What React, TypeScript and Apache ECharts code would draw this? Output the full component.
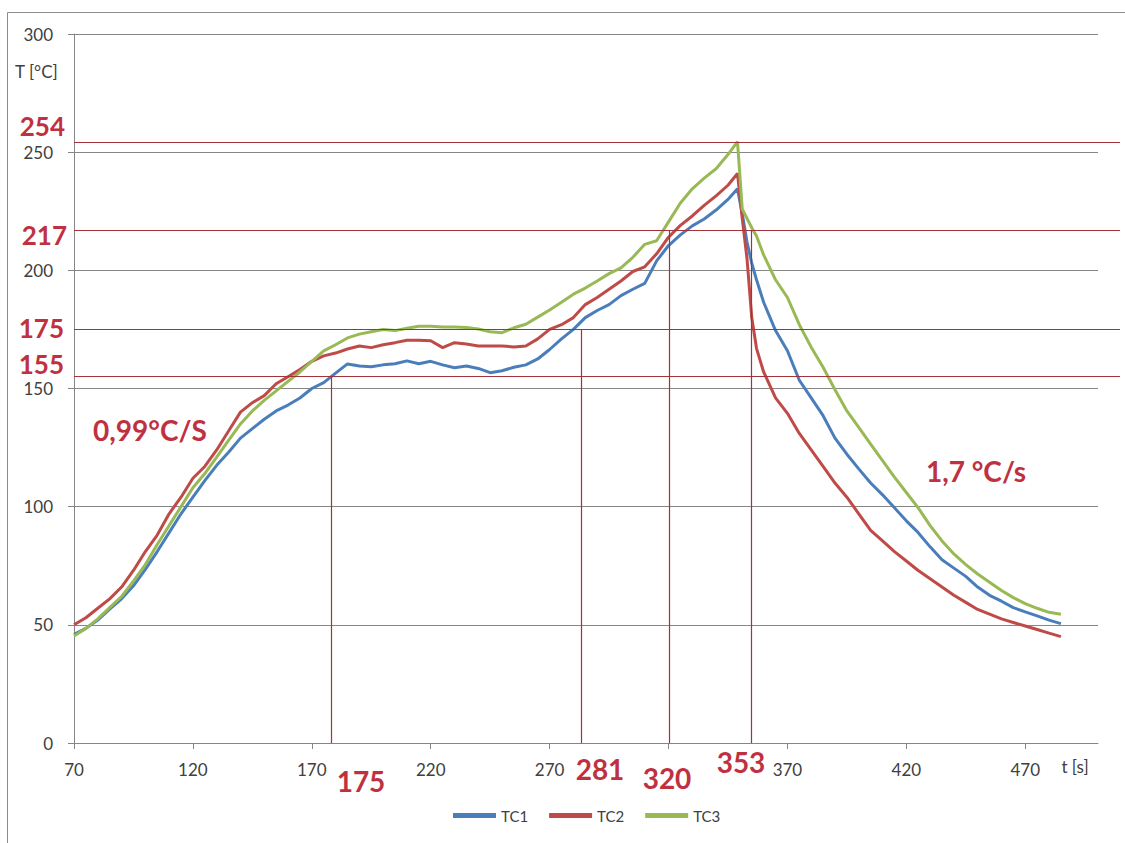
import React, { useEffect, useRef } from 'react';
import * as echarts from 'echarts';

// time [s]
const TIME = [
  70, 75, 80, 85, 90, 95, 100, 105, 110, 115, 120, 125, 130, 135, 140, 145, 150, 155, 160, 165,
  170, 175, 180, 185, 190, 195, 200, 205, 210, 215, 220, 225, 230, 235, 240, 245, 250, 255, 260, 265,
  270, 275, 280, 285, 290, 295, 300, 305, 310, 315, 320, 325, 330, 335, 340, 345,
  349, 351, 353, 355, 357,
  360, 365, 370, 375, 380, 385, 390, 395, 400, 405, 410, 415, 420, 425, 430, 435, 440, 445, 450,
  455, 460, 465, 470, 475, 480, 485,
];

// temperatures [°C]
const TC1 = [
  46, 48.5, 52, 56.6, 61, 66.5, 73.5, 81, 89, 97, 104, 111, 117.5, 123, 129, 133, 137, 140.5, 143, 146,
  150, 152.5, 156.5, 160.4, 159.5, 159.2, 160, 160.5, 161.7, 160.5, 161.5, 160, 158.8, 159.5, 158.5, 156.7, 157.5, 159, 160, 162.5,
  166.5, 171, 175, 180, 183, 185.5, 189.3, 192, 194.5, 204, 210.5, 215, 218.8, 221.7, 225.5, 230,
  234.5, 224, 212, 203, 196,
  186.5, 174.5, 166, 153.5, 146, 138.5, 129, 122.2, 116, 110, 105, 99.5, 94, 89, 83, 77.5, 74, 70.5, 66,
  62.5, 60, 57.3, 55.5, 53.8, 52, 50.5,
];
const TC2 = [
  50, 53, 57, 61, 66, 73, 81, 88, 97, 104, 112, 117, 124, 132, 140, 144, 147, 152, 155, 158,
  161.5, 163.8, 165, 166.7, 168, 167.3, 168.5, 169.4, 170.4, 170.4, 170.2, 167.3, 169.4, 168.8, 168, 168, 168, 167.6, 168, 171,
  175, 177, 180, 185.5, 188.5, 192, 195.5, 199.5, 201.5, 207, 214, 219, 223, 227.5, 231.5, 236,
  241, 222, 205, 180, 167,
  157, 146, 139.5, 131, 124, 117, 110, 104, 97, 90, 85.5, 81, 77, 73, 69.5, 66, 62.5, 59.5, 56.5,
  54.5, 52.5, 51, 49.5, 48, 46.5, 45,
];
const TC3 = [
  45.3, 48.5, 52.5, 57.3, 62, 68.5, 75.5, 84, 92, 100, 108, 114, 121, 128, 135, 140.5, 145, 149, 153, 157,
  161.5, 165.9, 168.5, 171.4, 173, 174, 175, 174.5, 175.5, 176.3, 176.3, 176, 176, 175.8, 175.2, 174, 173.6, 175.7, 177.2, 180.2,
  183.2, 186.5, 189.9, 192.5, 195.5, 198.6, 201, 205.5, 211, 212.5, 220.5, 228.5, 234.5, 239, 243, 249,
  254.5, 226, 222, 218, 214.5,
  206.5, 196, 188.5, 177, 167.5, 159, 149.5, 140.5, 133.5, 126.5, 119.5, 112.5, 106, 99.5, 92, 85.5, 80, 75.5, 71.5,
  68, 64.5, 61.5, 59, 57, 55.3, 54.5,
];

const X_TICKS = [70, 120, 170, 220, 270, 320, 370, 420, 470];
// the 320 tick label is covered by the red "320" annotation in the reference
const X_TICK_LABELS = [70, 120, 170, 220, 270, 370, 420, 470];
const H_LEVELS = [254, 217, 175, 155];
const V_MARK_TIMES = [178.3, 283.2, 320.3, 354.6];
const V_MARK_TOPS = [155, 175, 217, 217];
const V_MARK_LABELS = ['175', '281', '320', '353'];
const RATE_LABELS = ['0,99°C/S', '1,7 °C/s'];

const RED_TEXT = '#bf3140';
const RED_LINE = '#a3333b';
const GRID_GRAY = '#868686';
const LABEL = '#404040';
const FONT = 'Lato, "Open Sans", sans-serif';

export default function App() {
  const ref = useRef<HTMLDivElement>(null);

  useEffect(() => {
    if (!ref.current) return;
    const chart = echarts.init(ref.current, null, { renderer: 'svg' });
    const pts = (vals: number[]) => TIME.map((t, i) => [t, vals[i]]);

    // annotation layout (pixels)
    const hLabelPos = [[65, 126], [67, 235], [64, 328], [64, 364]];
    const vLabelPos = [[361, 781], [600, 769], [667, 778], [741, 762]];
    const ratePos = [[150, 430], [976, 471]];

    const redText = (text: string, x: number, y: number, align: string, size = 27) => ({
      type: 'text',
      x,
      y,
      silent: true,
      style: {
        text,
        fill: RED_TEXT,
        fontSize: size,
        fontWeight: 'bold',
        fontFamily: FONT,
        align,
        verticalAlign: 'middle',
      },
    });

    const graphic: any[] = [
      {
        type: 'rect',
        silent: true,
        shape: { x: 7.5, y: 12.5, width: 1130, height: 840 },
        style: { fill: 'none', stroke: '#8c8c8c', lineWidth: 1 },
      },
      ...H_LEVELS.map((v, i) => redText(String(v), hLabelPos[i][0], hLabelPos[i][1], 'right', 26)),
      ...V_MARK_LABELS.map((s, i) => redText(s, vLabelPos[i][0], vLabelPos[i][1], 'center', 28)),
      ...RATE_LABELS.map((s, i) => redText(s, ratePos[i][0], ratePos[i][1], 'center', 28)),
      {
        type: 'text',
        x: 15,
        y: 71,
        silent: true,
        style: { text: 'T [°C]', fill: LABEL, fontSize: 17, fontFamily: FONT, verticalAlign: 'middle' },
      },
      {
        type: 'text',
        x: 1075,
        y: 766,
        silent: true,
        style: { text: 't [s]', fill: LABEL, fontSize: 17, fontFamily: FONT, align: 'center', verticalAlign: 'middle' },
      },
    ];

    const lineSeries = (name: string, vals: number[], color: string, extra: any = {}) => ({
      name,
      type: 'line',
      xAxisIndex: 0,
      yAxisIndex: 0,
      data: pts(vals),
      symbol: 'none',
      showSymbol: false,
      lineStyle: { color, width: 3 },
      itemStyle: { color },
      emphasis: { disabled: true },
      ...extra,
    });

    chart.setOption({
      animation: false,
      backgroundColor: '#ffffff',
      textStyle: { fontFamily: FONT },
      grid: [
        { left: 74, top: 34, right: 27, bottom: 100, outerBoundsMode: 'none' },
        { left: 74, top: 34, right: 5, bottom: 100, outerBoundsMode: 'none' },
      ],
      xAxis: [
        {
          type: 'value',
          gridIndex: 0,
          min: 70,
          max: 500.6,
          axisLine: { show: true, lineStyle: { color: GRID_GRAY, width: 1 } },
          axisTick: { show: true, length: 6, customValues: X_TICKS, lineStyle: { color: GRID_GRAY } },
          axisLabel: { customValues: X_TICK_LABELS, margin: 18, fontSize: 17, color: LABEL, fontFamily: FONT },
          splitLine: { show: false },
        },
        { type: 'value', gridIndex: 1, min: 70, max: 510, show: false },
      ],
      yAxis: [
        {
          type: 'value',
          gridIndex: 0,
          min: 0,
          max: 300,
          interval: 50,
          axisLine: { show: true, lineStyle: { color: GRID_GRAY, width: 1 } },
          axisTick: { show: true, length: 6, lineStyle: { color: GRID_GRAY } },
          axisLabel: { margin: 21, fontSize: 17, color: LABEL, fontFamily: FONT },
          splitLine: { show: true, lineStyle: { color: GRID_GRAY, width: 1 } },
        },
        { type: 'value', gridIndex: 1, min: 0, max: 300, show: false },
      ],
      legend: {
        data: ['TC1', 'TC2', 'TC3'],
        left: 453,
        top: 808,
        icon: 'rect',
        itemWidth: 43,
        itemHeight: 5,
        itemGap: 21,
        padding: 0,
        textStyle: { fontSize: 15, color: LABEL, fontFamily: FONT },
      },
      graphic,
      series: [
        {
          name: 'levels',
          type: 'line',
          xAxisIndex: 1,
          yAxisIndex: 1,
          data: [],
          markLine: {
            silent: true,
            symbol: ['none', 'none'],
            label: { show: false },
            lineStyle: { color: RED_LINE, width: 1.2, type: 'solid' },
            emphasis: { disabled: true },
            data: H_LEVELS.map((v) => ({ yAxis: v })),
          },
        },
        lineSeries('TC1', TC1, '#4a7ebb', {
          markLine: {
            silent: true,
            symbol: ['none', 'none'],
            label: { show: false },
            lineStyle: { color: RED_LINE, width: 1.2, type: 'solid' },
            emphasis: { disabled: true },
            data: V_MARK_TIMES.map((t, i) => [{ coord: [t, 0] }, { coord: [t, V_MARK_TOPS[i]] }]),
          },
        }),
        lineSeries('TC2', TC2, '#be4b48'),
        lineSeries('TC3', TC3, '#98b954'),
      ],
    });

    return () => chart.dispose();
  }, []);

  return (
    <div
      ref={ref}
      style={{ position: 'absolute', left: 0, top: 0, width: 1125, height: 843, background: '#fff' }}
    />
  );
}
